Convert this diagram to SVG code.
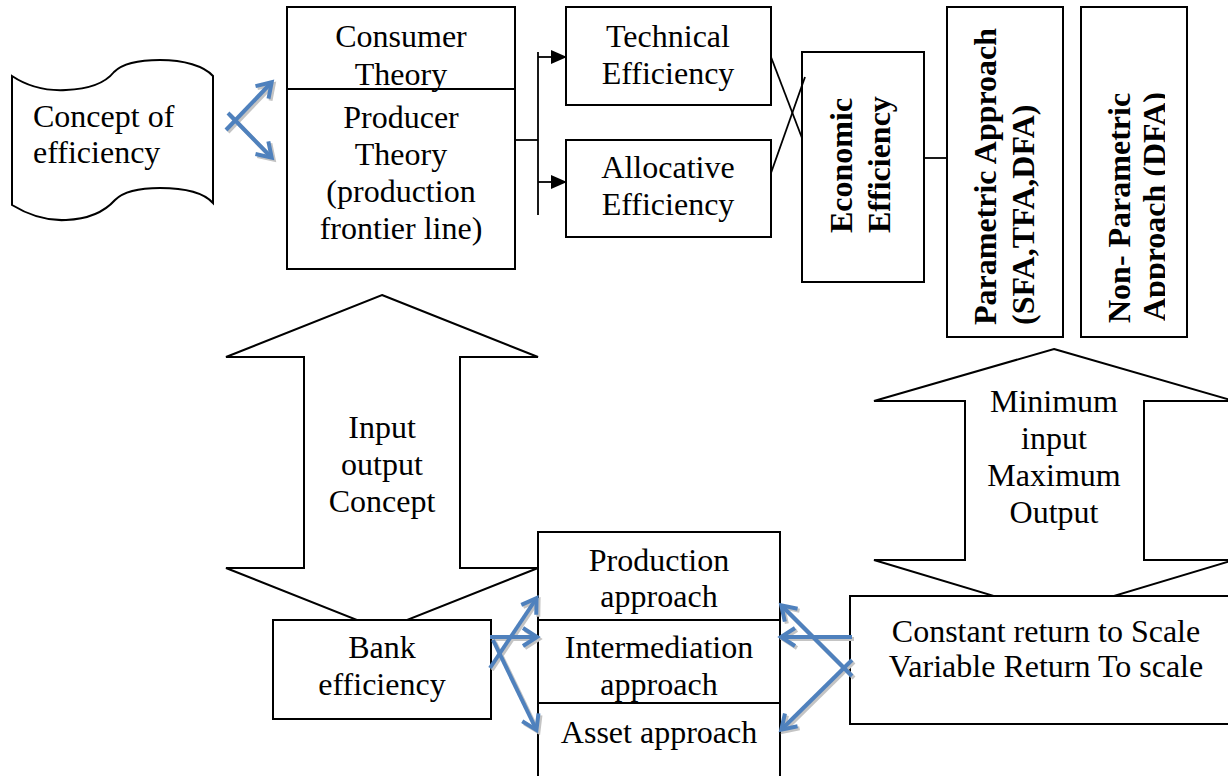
<svg xmlns="http://www.w3.org/2000/svg" width="1228" height="776" viewBox="0 0 1228 776">
<style>
.b{fill:#fff;stroke:#000;stroke-width:2}
.t{font-family:"Liberation Serif","Times New Roman",serif;font-size:32px;fill:#000;text-anchor:middle}
.tb{font-family:"Liberation Serif","Times New Roman",serif;font-size:32px;font-weight:bold;fill:#000}
.ln{fill:none;stroke:#000;stroke-width:1.8}
.bl{fill:none;stroke:#4f81bd;stroke-width:4;marker-end:url(#ob)}
.sh{fill:none;stroke:#c4c4c4;stroke-width:4;marker-end:url(#os)}
</style>
<defs>
<marker id="ob" viewBox="-18 -12 22 24" markerWidth="22" markerHeight="24" markerUnits="userSpaceOnUse" refX="-1" refY="0" orient="auto"><path d="M-14,-9 L0,0 L-14,9" fill="none" stroke="#4f81bd" stroke-width="4" stroke-linejoin="miter"/></marker>
<marker id="os" viewBox="-18 -12 22 24" markerWidth="22" markerHeight="24" markerUnits="userSpaceOnUse" refX="-1" refY="0" orient="auto"><path d="M-14,-9 L0,0 L-14,9" fill="none" stroke="#c4c4c4" stroke-width="4"/></marker>
<marker id="fa" viewBox="0 0 16 14" markerWidth="16" markerHeight="14" markerUnits="userSpaceOnUse" refX="15" refY="7" orient="auto"><path d="M0,0 L16,7 L0,14 Z" fill="#000"/></marker>
<clipPath id="npclip"><rect x="1082" y="8" width="83" height="328"/></clipPath>
</defs>

<g id="arrow-input-output">
<path class="b" d="M382,295 L538,357 L460,357 L460,568 L538,568 L382,630 L226,568 L304,568 L304,357 L226,357 Z"/>
<text class="t" x="382" y="438">Input</text>
<text class="t" x="382" y="475">output</text>
<text class="t" x="382" y="512">Concept</text>
</g>

<g id="arrow-min-max">
<path class="b" d="M1054,349 L1234,401 L1144,401 L1144,560 L1234,560 L1054,614 L874,560 L965,560 L965,401 L874,401 Z"/>
<text class="t" x="1054" y="412">Minimum</text>
<text class="t" x="1054" y="449">input</text>
<text class="t" x="1054" y="486">Maximum</text>
<text class="t" x="1054" y="523">Output</text>
</g>

<g id="concept">
<path class="b" d="M12,76 C30,88 48,91 66,90 C92,89 106,82 114,72 C124,62 142,60 160,60 C184,60 204,66 213,76 L213,203 C204,193 184,188 160,188 C142,188 124,191 115,200 C106,210 92,219 66,220 C48,221 30,216 12,205 Z"/>
<text class="t" style="text-anchor:start" x="33" y="127">Concept of</text>
<text class="t" style="text-anchor:start" x="33" y="163">efficiency</text>
</g>

<g id="theory">
<rect class="b" x="287" y="7" width="228" height="262"/>
<line class="ln" x1="287" y1="89" x2="515" y2="89"/>
<text class="t" x="401" y="47">Consumer</text>
<text class="t" x="401" y="85">Theory</text>
<text class="t" x="401" y="128">Producer</text>
<text class="t" x="401" y="165">Theory</text>
<text class="t" x="401" y="202">(production</text>
<text class="t" x="401" y="239">frontier line)</text>
</g>

<g id="technical">
<rect class="b" x="566" y="7" width="205" height="98"/>
<text class="t" x="668" y="47">Technical</text>
<text class="t" x="668" y="84">Efficiency</text>
</g>

<g id="allocative">
<rect class="b" x="566" y="140" width="205" height="97"/>
<text class="t" x="668" y="178">Allocative</text>
<text class="t" x="668" y="215">Efficiency</text>
</g>

<g id="economic">
<rect class="b" x="802" y="52" width="122" height="230"/>
<text class="tb" transform="translate(852,233) rotate(-90)">Economic</text>
<text class="tb" transform="translate(890,233) rotate(-90)">Efficiency</text>
</g>

<g id="parametric">
<rect class="b" x="947" y="7" width="116" height="330"/>
<text class="tb" transform="translate(996,325) rotate(-90)">Parametric Approach</text>
<text class="tb" transform="translate(1034,325) rotate(-90)">(SFA,TFA,DFA)</text>
</g>

<g id="nonparametric">
<rect class="b" x="1081" y="7" width="106" height="330"/>
<g clip-path="url(#npclip)">
<text class="tb" transform="translate(1130,323) rotate(-90)">Non- Parametric</text>
<text class="tb" transform="translate(1165,321) rotate(-90)">Approach (DFA)</text>
</g>
</g>

<g id="bank">
<rect class="b" x="273" y="620" width="218" height="99"/>
<text class="t" x="382" y="658">Bank</text>
<text class="t" x="382" y="695">efficiency</text>
</g>

<g id="approaches">
<rect class="b" x="538" y="532" width="242" height="260"/>
<line class="ln" x1="538" y1="620" x2="780" y2="620"/>
<line class="ln" x1="538" y1="703" x2="780" y2="703"/>
<text class="t" x="659" y="571">Production</text>
<text class="t" x="659" y="607">approach</text>
<text class="t" x="659" y="658">Intermediation</text>
<text class="t" x="659" y="695">approach</text>
<text class="t" x="659" y="743">Asset approach</text>
</g>

<g id="returns">
<rect class="b" x="850" y="596" width="392" height="128"/>
<text class="t" x="1046" y="642">Constant return to Scale</text>
<text class="t" x="1046" y="677">Variable Return To scale</text>
</g>

<g id="connectors">
<line class="ln" x1="515" y1="140" x2="538" y2="140"/>
<line class="ln" x1="538" y1="52" x2="538" y2="215"/>
<line class="ln" x1="538" y1="57" x2="566" y2="57" marker-end="url(#fa)"/>
<line class="ln" x1="538" y1="182" x2="566" y2="182" marker-end="url(#fa)"/>
<line class="ln" x1="771" y1="57" x2="802" y2="138"/>
<line class="ln" x1="771" y1="173" x2="805" y2="77"/>
<line class="ln" x1="924" y1="158" x2="947" y2="158"/>
<g transform="translate(2,2)">
<path class="sh" d="M226,130 L271,83"/>
<path class="sh" d="M228,113 L271,157"/>
<path class="sh" d="M490,668 L536,599"/>
<path class="sh" d="M490,637 L536,637"/>
<path class="sh" d="M493,640 L536,729"/>
<path class="sh" d="M852,637 L782,637"/>
<path class="sh" d="M852,676 L782,606"/>
<path class="sh" d="M852,660 L782,729"/>
</g>
<path class="bl" d="M226,130 L271,83"/>
<path class="bl" d="M228,113 L271,157"/>
<path class="bl" d="M490,668 L536,599"/>
<path class="bl" d="M490,637 L536,637"/>
<path class="bl" d="M493,640 L536,729"/>
<path class="bl" d="M852,637 L782,637"/>
<path class="bl" d="M852,676 L782,606"/>
<path class="bl" d="M852,660 L782,729"/>
</g>
</svg>
